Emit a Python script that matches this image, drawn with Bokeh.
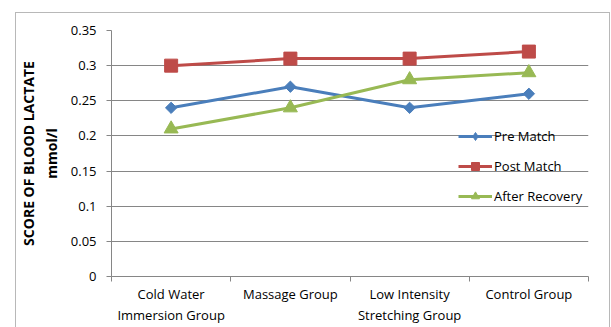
from bokeh.plotting import figure
from bokeh.models import FixedTicker, Legend, LegendItem, Range1d
from bokeh.embed import file_html
from bokeh.resources import INLINE

categories = ["Cold Water\nImmersion Group", "Massage Group",
              "Low Intensity\nStretching Group", "Control Group"]
pre_match = [0.24, 0.27, 0.24, 0.26]
post_match = [0.30, 0.31, 0.31, 0.32]
after_recovery = [0.21, 0.24, 0.28, 0.29]
y_ticks = [0, 0.05, 0.10, 0.15, 0.20, 0.25, 0.30, 0.35]
y_tick_labels = ["0", "0.05", "0.1", "0.15", "0.2", "0.25", "0.3", "0.35"]

FONT = "Open Sans"
GRID = "#868686"

xs = [i + 0.5 for i in range(len(categories))]

p = figure(width=595, height=315, output_backend="svg", toolbar_location=None,
           x_range=Range1d(0, len(categories)), y_range=Range1d(0, 0.35),
           min_border_left=94, min_border_top=18, min_border_right=22,
           min_border_bottom=51)
p.styles = {"margin-left": "15px", "margin-top": "12px",
            "background-color": "white",
            "box-shadow": "inset 1px 1px 0 0 #b8b8b8, inset -1px 0 0 0 #b8b8b8"}
p.outline_line_color = None
p.background_fill_color = "white"
p.border_fill_color = None

# axes
p.xaxis.ticker = FixedTicker(ticks=xs, minor_ticks=list(range(len(categories) + 1)))
p.xaxis.major_label_overrides = {x: c for x, c in zip(xs, categories)}
p.xaxis.major_tick_line_color = None
p.xaxis.major_tick_out = 5
p.xaxis.minor_tick_in = 0
p.xaxis.minor_tick_out = 5
p.xaxis.minor_tick_line_color = GRID
p.xaxis.axis_line_color = GRID
p.xaxis.major_label_standoff = 3
p.xaxis.major_label_text_font = FONT
p.xaxis.major_label_text_font_size = "13px"
p.xaxis.major_label_text_color = "#000000"
p.xgrid.grid_line_color = None

p.yaxis.ticker = FixedTicker(ticks=y_ticks, minor_ticks=[])
p.yaxis.major_label_overrides = {t: l for t, l in zip(y_ticks, y_tick_labels)}
p.yaxis.major_tick_in = 0
p.yaxis.major_tick_out = 5
p.yaxis.major_tick_line_color = GRID
p.yaxis.axis_line_color = GRID
p.yaxis.major_label_standoff = 10
p.yaxis.major_label_text_font = FONT
p.yaxis.major_label_text_font_size = "13px"
p.yaxis.major_label_text_color = "#000000"
p.yaxis.axis_label = "SCORE OF BLOOD LACTATE\nmmol/l"
p.yaxis.axis_label_text_font = FONT
p.yaxis.axis_label_text_font_size = "14px"
p.yaxis.axis_label_text_font_style = "bold"
p.yaxis.axis_label_text_color = "#000000"
p.yaxis.axis_label_standoff = 7
p.ygrid.grid_line_color = GRID
p.ygrid.grid_line_width = 1

# (name, values, colour, plot marker, size, angle, legend marker, legend size)
series = [
    ("Pre Match", pre_match, "#4A7EBB", "square", 8, 0.785398, "diamond", 12),
    ("Post Match", post_match, "#BE4B48", "square", 13, 0.0, "square", 11),
    ("After Recovery", after_recovery, "#98B954", "triangle", 14, 0.0, "triangle", 12),
]
items = []
for name, vals, color, marker, size, ang, lmarker, lsize in series:
    l = p.line(xs, vals, line_color=color, line_width=3)
    p.scatter(xs, vals, marker=marker, size=size, angle=ang,
              fill_color=color, line_color=color)
    ls = p.scatter(xs, vals, marker=lmarker, size=lsize,
                   fill_color=color, line_color=color, visible=False)
    items.append(LegendItem(label=name, renderers=[l, ls]))

legend = Legend(items=items, location=(347, 70), padding=0, margin=0,
                spacing=10, glyph_height=20, glyph_width=34, label_height=20,
                label_standoff=2, border_line_color=None,
                background_fill_alpha=0, label_text_font=FONT,
                label_text_font_size="13px", label_text_color="#000000")
p.add_layout(legend)

open("out.html", "w").write(file_html(p, INLINE))
